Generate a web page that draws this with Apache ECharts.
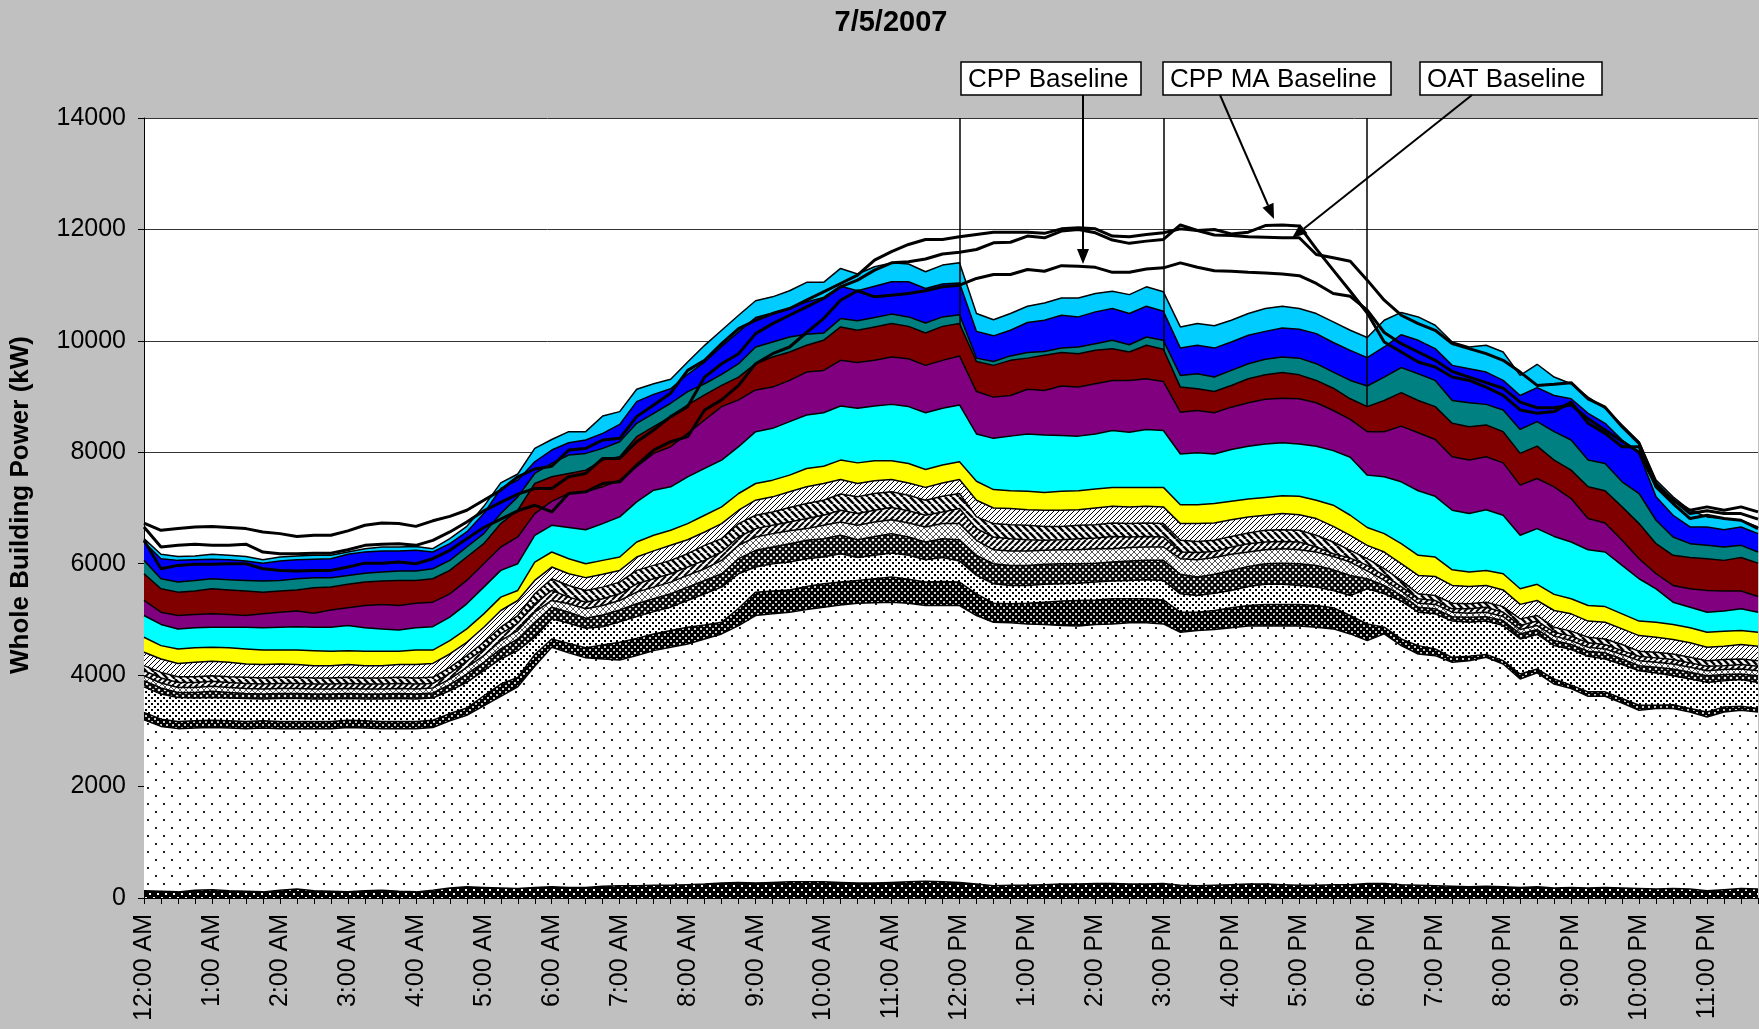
<!DOCTYPE html>
<html>
<head>
<meta charset="utf-8">
<title>7/5/2007</title>
<script src="https://cdn.jsdelivr.net/npm/echarts@6/dist/echarts.min.js"></script>
<style>
  html, body { margin: 0; padding: 0; background: #c0c0c0; }
  #chart { width: 1759px; height: 1029px; }
</style>
</head>
<body>
<div id="chart"></div>
<script>
// hour labels of the time axis, the data itself is every 15 minutes
const hourLabels = ['12:00 AM', '1:00 AM', '2:00 AM', '3:00 AM', '4:00 AM', '5:00 AM', '6:00 AM', '7:00 AM',
  '8:00 AM', '9:00 AM', '10:00 AM', '11:00 AM', '12:00 PM', '1:00 PM', '2:00 PM', '3:00 PM', '4:00 PM',
  '5:00 PM', '6:00 PM', '7:00 PM', '8:00 PM', '9:00 PM', '10:00 PM', '11:00 PM']
const quarterMarks = [':00', ':15', ':30', ':45']
const eventLines = ['12:00 PM', '3:00 PM', '6:00 PM']

// top edge (kW) of every stacked band, bottom band first
const baseBlack = [130, 120, 110, 140, 150, 130, 120, 110, 140, 160, 130, 120, 110, 130, 140, 120, 110, 140, 180, 200, 190, 180, 170, 190,
  200, 190, 190, 210, 220, 220, 230, 230, 240, 250, 270, 280, 270, 280, 290, 290, 290, 280, 270, 270, 280, 290, 300, 290, 280,
  250, 220, 230, 230, 240, 250, 250, 260, 260, 250, 250, 260, 230, 220, 230, 240, 250, 250, 240, 230, 230, 240, 240,
  260, 260, 240, 230, 220, 210, 200, 210, 200, 190, 200, 180, 190, 180, 190, 180, 170, 160, 170, 160, 130, 150, 170, 160]
const dotsLight = [3200, 3080, 3040, 3050, 3060, 3050, 3040, 3050, 3040, 3040, 3040, 3040, 3060, 3050, 3040, 3040, 3040, 3060, 3180, 3280, 3450, 3620, 3790, 4160,
  4500, 4400, 4310, 4290, 4270, 4350, 4440, 4500, 4560, 4650, 4740, 4890, 5070, 5100, 5130, 5180, 5220, 5260, 5290, 5300, 5310, 5290, 5250, 5250, 5250,
  5070, 4950, 4940, 4920, 4910, 4890, 4880, 4910, 4920, 4940, 4940, 4920, 4770, 4800, 4820, 4850, 4880, 4880, 4880, 4880, 4860, 4830, 4740,
  4620, 4740, 4530, 4380, 4350, 4230, 4260, 4320, 4200, 3930, 4040, 3840, 3760, 3620, 3620, 3500, 3370, 3400, 3400, 3340, 3250, 3340, 3370, 3340]
const dotsBlack = [3330, 3210, 3170, 3180, 3190, 3180, 3170, 3180, 3170, 3170, 3170, 3170, 3190, 3180, 3170, 3170, 3170, 3190, 3310, 3410, 3630, 3840, 3960, 4370,
  4650, 4570, 4490, 4540, 4590, 4660, 4740, 4800, 4860, 4900, 4950, 5200, 5490, 5510, 5530, 5590, 5640, 5670, 5700, 5730, 5760, 5720, 5670, 5680, 5670,
  5460, 5290, 5280, 5290, 5310, 5330, 5340, 5350, 5370, 5370, 5370, 5350, 5130, 5130, 5160, 5210, 5250, 5270, 5270, 5270, 5250, 5210, 5070,
  4920, 4860, 4650, 4530, 4470, 4320, 4340, 4370, 4260, 4020, 4110, 3930, 3820, 3700, 3700, 3580, 3460, 3460, 3470, 3400, 3340, 3430, 3440, 3400]
const dotsDense = [3790, 3660, 3600, 3590, 3600, 3590, 3580, 3570, 3580, 3580, 3570, 3570, 3580, 3570, 3570, 3580, 3570, 3590, 3720, 3870, 4080, 4290, 4440, 4680,
  5010, 4930, 4840, 4870, 4960, 5050, 5140, 5220, 5340, 5460, 5580, 5820, 5940, 6000, 6030, 6090, 6120, 6180, 6110, 6150, 6190, 6150, 6070, 6110, 6050,
  5790, 5640, 5610, 5610, 5630, 5640, 5650, 5670, 5690, 5700, 5710, 5700, 5460, 5430, 5470, 5520, 5590, 5630, 5630, 5610, 5580, 5520, 5430,
  5550, 5460, 5330, 5130, 5100, 4970, 4950, 4970, 4890, 4650, 4730, 4530, 4460, 4340, 4290, 4190, 4080, 4040, 3990, 3930, 3870, 3900, 3920, 3870]
const checkDark = [3900, 3770, 3690, 3690, 3710, 3690, 3670, 3660, 3670, 3670, 3660, 3660, 3670, 3660, 3660, 3670, 3660, 3680, 3830, 4020, 4230, 4470, 4650, 4950,
  5220, 5130, 5020, 5080, 5170, 5280, 5370, 5460, 5580, 5700, 5820, 6090, 6240, 6300, 6360, 6420, 6450, 6510, 6430, 6490, 6540, 6480, 6390, 6450, 6430,
  6150, 6000, 5970, 5970, 5990, 6000, 6000, 6010, 6030, 6050, 6060, 6060, 5810, 5760, 5810, 5880, 5950, 6000, 6010, 6000, 5970, 5890, 5790,
  5730, 5610, 5430, 5220, 5190, 5050, 5040, 5050, 4980, 4740, 4820, 4620, 4550, 4430, 4400, 4290, 4170, 4140, 4110, 4050, 3990, 4010, 4020, 3990]
const checkLight = [3990, 3860, 3780, 3780, 3800, 3780, 3760, 3750, 3760, 3760, 3750, 3750, 3760, 3750, 3750, 3760, 3750, 3770, 3930, 4140, 4350, 4620, 4800, 5130,
  5340, 5280, 5190, 5250, 5340, 5490, 5580, 5670, 5790, 5910, 6060, 6330, 6480, 6540, 6590, 6630, 6690, 6750, 6690, 6750, 6790, 6730, 6660, 6720, 6720,
  6420, 6250, 6230, 6230, 6240, 6250, 6250, 6270, 6270, 6290, 6300, 6300, 6090, 6070, 6110, 6170, 6210, 6250, 6270, 6250, 6210, 6130, 6030,
  5870, 5700, 5510, 5290, 5270, 5130, 5110, 5130, 5050, 4820, 4890, 4700, 4620, 4500, 4470, 4370, 4260, 4230, 4200, 4140, 4080, 4100, 4110, 4080]
const stripeDown = [4080, 3950, 3870, 3870, 3890, 3870, 3850, 3840, 3850, 3850, 3840, 3840, 3850, 3840, 3840, 3850, 3840, 3850, 4030, 4250, 4470, 4740, 4930, 5280,
  5520, 5400, 5310, 5370, 5460, 5640, 5730, 5820, 5940, 6060, 6210, 6480, 6630, 6690, 6750, 6810, 6870, 6960, 6900, 6960, 7010, 6950, 6870, 6930, 6990,
  6630, 6480, 6450, 6430, 6420, 6430, 6450, 6460, 6490, 6480, 6490, 6480, 6210, 6200, 6220, 6300, 6360, 6390, 6400, 6390, 6300, 6180, 6100,
  5970, 5790, 5590, 5370, 5340, 5190, 5190, 5220, 5130, 4890, 4970, 4770, 4700, 4580, 4550, 4440, 4340, 4310, 4280, 4220, 4160, 4170, 4190, 4160]
const stripeWide = [4170, 4050, 3970, 3970, 3990, 3970, 3960, 3950, 3960, 3960, 3950, 3950, 3960, 3950, 3950, 3960, 3950, 3960, 4140, 4350, 4590, 4860, 5070, 5460,
  5730, 5610, 5520, 5580, 5670, 5880, 5970, 6060, 6180, 6330, 6450, 6720, 6870, 6930, 7010, 7080, 7140, 7250, 7200, 7260, 7290, 7230, 7140, 7210, 7260,
  6840, 6720, 6700, 6690, 6670, 6670, 6690, 6700, 6730, 6720, 6730, 6720, 6420, 6400, 6420, 6490, 6550, 6600, 6610, 6600, 6510, 6390, 6240,
  6090, 5910, 5700, 5460, 5430, 5290, 5280, 5310, 5230, 5010, 5070, 4860, 4790, 4680, 4650, 4550, 4430, 4410, 4380, 4320, 4260, 4280, 4290, 4260]
const stripeLight = [4410, 4290, 4210, 4230, 4250, 4230, 4200, 4190, 4200, 4190, 4170, 4170, 4190, 4170, 4170, 4190, 4190, 4210, 4380, 4590, 4860, 5160, 5340, 5700,
  5940, 5820, 5750, 5810, 5880, 6120, 6230, 6330, 6430, 6570, 6720, 6960, 7140, 7200, 7290, 7380, 7440, 7510, 7440, 7490, 7510, 7450, 7370, 7450, 7510,
  7140, 7000, 6990, 6970, 6960, 6960, 6970, 7000, 7030, 7020, 7030, 7020, 6720, 6720, 6730, 6790, 6840, 6870, 6900, 6880, 6810, 6670, 6510,
  6330, 6210, 6000, 5790, 5770, 5610, 5590, 5610, 5530, 5270, 5340, 5160, 5100, 4970, 4950, 4830, 4710, 4680, 4640, 4580, 4500, 4520, 4550, 4520]
const yellowTop = [4680, 4530, 4470, 4490, 4500, 4490, 4470, 4450, 4450, 4450, 4440, 4430, 4440, 4430, 4430, 4430, 4450, 4450, 4620, 4830, 5100, 5400, 5520, 6030,
  6210, 6090, 6000, 6060, 6120, 6390, 6510, 6600, 6720, 6870, 7020, 7260, 7440, 7500, 7590, 7710, 7750, 7860, 7810, 7850, 7850, 7800, 7690, 7770, 7830,
  7480, 7330, 7310, 7300, 7280, 7300, 7310, 7340, 7370, 7370, 7370, 7370, 7060, 7060, 7080, 7120, 7160, 7190, 7220, 7210, 7140, 7050, 6870,
  6650, 6540, 6360, 6150, 6120, 5890, 5850, 5880, 5820, 5550, 5630, 5450, 5370, 5250, 5230, 5100, 4970, 4950, 4910, 4850, 4770, 4790, 4800, 4770]
const cyanTop = [5070, 4910, 4830, 4850, 4860, 4860, 4860, 4850, 4860, 4870, 4860, 4860, 4890, 4850, 4830, 4810, 4850, 4870, 5040, 5280, 5580, 5880, 6000, 6510,
  6690, 6650, 6610, 6720, 6840, 7110, 7320, 7380, 7560, 7710, 7860, 8100, 8370, 8430, 8550, 8670, 8710, 8830, 8790, 8830, 8860, 8820, 8710, 8790, 8850,
  8330, 8250, 8290, 8330, 8310, 8300, 8290, 8330, 8390, 8360, 8410, 8390, 7970, 7990, 7970, 8050, 8110, 8150, 8170, 8150, 8110, 8030, 7910,
  7590, 7560, 7470, 7310, 7210, 6960, 6900, 6970, 6870, 6510, 6630, 6490, 6390, 6250, 6210, 5970, 5730, 5550, 5310, 5220, 5130, 5150, 5190, 5130]
const purpleTop = [5340, 5130, 5070, 5090, 5100, 5090, 5070, 5100, 5130, 5150, 5110, 5170, 5210, 5250, 5270, 5250, 5290, 5310, 5460, 5700, 6000, 6300, 6480, 6900,
  7120, 7260, 7290, 7380, 7500, 7740, 7980, 8100, 8340, 8580, 8820, 8940, 9120, 9170, 9290, 9440, 9470, 9650, 9610, 9650, 9710, 9680, 9560, 9650, 9730,
  9090, 8990, 9020, 9130, 9110, 9190, 9170, 9230, 9290, 9290, 9320, 9270, 8720, 8750, 8710, 8810, 8890, 8950, 8970, 8960, 8890, 8750, 8590,
  8370, 8370, 8470, 8350, 8230, 7920, 7860, 7920, 7810, 7410, 7530, 7380, 7170, 6810, 6730, 6420, 6090, 5820, 5610, 5550, 5520, 5510, 5510, 5410]
const maroonTop = [5820, 5550, 5490, 5510, 5550, 5530, 5510, 5490, 5510, 5530, 5570, 5580, 5630, 5670, 5690, 5700, 5700, 5730, 5880, 6120, 6360, 6720, 6960, 7440,
  7560, 7620, 7680, 7860, 7920, 8280, 8460, 8640, 8850, 9030, 9200, 9350, 9590, 9710, 9800, 9920, 10010, 10250, 10190, 10250, 10310, 10260, 10140, 10260, 10310,
  9630, 9560, 9650, 9690, 9740, 9790, 9770, 9830, 9860, 9800, 9920, 9850, 9170, 9140, 9090, 9200, 9320, 9390, 9430, 9390, 9290, 9150, 8960,
  8820, 8930, 9070, 8930, 8820, 8520, 8460, 8490, 8370, 7980, 8110, 7860, 7680, 7380, 7310, 7020, 6720, 6360, 6150, 6110, 6090, 6060, 6110, 6010]
const tealTop = [6060, 5730, 5670, 5700, 5730, 5710, 5700, 5690, 5700, 5730, 5750, 5750, 5790, 5830, 5850, 5870, 5870, 5910, 6060, 6300, 6540, 6900, 7200, 7620,
  7800, 7950, 7980, 8070, 8190, 8520, 8700, 8880, 9090, 9230, 9400, 9590, 9890, 9980, 10070, 10120, 10140, 10400, 10360, 10420, 10480, 10430, 10320, 10430, 10470,
  9690, 9630, 9730, 9790, 9810, 9870, 9890, 9950, 10010, 9930, 10070, 10010, 9380, 9410, 9350, 9470, 9590, 9670, 9710, 9690, 9590, 9440, 9290,
  9190, 9350, 9520, 9410, 9290, 8930, 8890, 8860, 8760, 8410, 8550, 8370, 8220, 7860, 7800, 7470, 7260, 6780, 6480, 6360, 6330, 6300, 6330, 6210]
const blueTop = [6390, 6090, 6060, 6070, 6080, 6070, 6050, 6010, 6050, 6070, 6080, 6090, 6170, 6210, 6230, 6230, 6240, 6210, 6360, 6570, 6900, 7350, 7500, 7830,
  8040, 8170, 8220, 8340, 8500, 8910, 9040, 9140, 9400, 9620, 9900, 10160, 10420, 10500, 10580, 10700, 10780, 10980, 10900, 10980, 11060, 11060, 10940, 11020, 11040,
  10170, 10090, 10190, 10330, 10370, 10460, 10430, 10520, 10580, 10490, 10620, 10530, 9870, 9920, 9870, 9980, 10100, 10170, 10230, 10210, 10130, 9970, 9830,
  9700, 9890, 10110, 10010, 9860, 9560, 9500, 9440, 9290, 9020, 9160, 9020, 8960, 8700, 8520, 8220, 7980, 7200, 6870, 6660, 6660, 6610, 6660, 6540]
const skyTop = [6450, 6170, 6130, 6140, 6170, 6150, 6130, 6070, 6120, 6140, 6150, 6150, 6210, 6270, 6300, 6300, 6310, 6270, 6450, 6670, 7030, 7450, 7610, 8070,
  8230, 8370, 8370, 8650, 8730, 9130, 9230, 9310, 9620, 9920, 10190, 10460, 10720, 10790, 10900, 11050, 11050, 11300, 11200, 11330, 11400, 11380, 11240, 11360, 11400,
  10490, 10380, 10490, 10620, 10680, 10770, 10770, 10850, 10890, 10830, 10970, 10880, 10250, 10310, 10270, 10370, 10490, 10580, 10620, 10580, 10490, 10340, 10190,
  10060, 10370, 10510, 10430, 10280, 9980, 9890, 9920, 9800, 9380, 9580, 9350, 9230, 8990, 8790, 8490, 8190, 7500, 7200, 6960, 6840, 6810, 6780, 6660]

// the three baselines (kW)
const cppBaseline = [6420, 5910, 5970, 5990, 5990, 6000, 6000, 5910, 5880, 5870, 5880, 5880, 5940, 6010, 6010, 6030, 6000, 6090, 6240, 6450, 6650, 6800, 6950, 7050,
  6930, 7260, 7290, 7440, 7470, 7770, 8040, 8190, 8280, 8760, 8940, 9200, 9590, 9770, 9890, 10150, 10400, 10730, 10900, 10790, 10820, 10850, 10900, 10970, 11000,
  11120, 11190, 11190, 11280, 11250, 11350, 11340, 11320, 11230, 11230, 11290, 11310, 11400, 11320, 11260, 11250, 11230, 11220, 11200, 11170, 11030, 10850, 10800,
  10550, 10150, 9950, 9800, 9650, 9450, 9350, 9250, 9150, 8900, 8800, 8800, 8850, 8600, 8400, 8200, 8000, 7400, 7150, 6900, 6950, 6900, 6900, 6800]
const cppMaBaseline = [6730, 6600, 6630, 6660, 6670, 6650, 6630, 6570, 6540, 6490, 6510, 6510, 6590, 6690, 6730, 6720, 6670, 6770, 6850, 6960, 7140, 7320, 7560, 7700,
  7750, 8040, 8070, 8220, 8250, 8640, 8850, 9060, 9470, 9650, 9950, 10220, 10370, 10490, 10580, 10730, 10880, 11030, 11180, 11450, 11600, 11730, 11820, 11820, 11870,
  11910, 11950, 11950, 11950, 11930, 12010, 12030, 12010, 11880, 11870, 11910, 11940, 12010, 11980, 12000, 11920, 11950, 12070, 12080, 12060, 11650, 11270, 10890,
  10500, 9980, 9800, 9620, 9530, 9350, 9290, 9170, 9020, 8760, 8700, 8730, 8900, 8520, 8340, 8100, 8100, 7380, 7080, 6810, 6870, 6810, 6780, 6630]
const oatBaseline = [6660, 6300, 6330, 6350, 6330, 6330, 6350, 6210, 6180, 6180, 6190, 6190, 6250, 6330, 6350, 6360, 6330, 6420, 6570, 6750, 6950, 7100, 7250, 7350,
  7350, 7560, 7620, 7890, 7890, 8190, 8400, 8640, 8820, 9350, 9590, 9770, 10130, 10310, 10460, 10610, 10760, 10970, 11090, 11270, 11400, 11420, 11470, 11560, 11590,
  11640, 11760, 11770, 11880, 11850, 11970, 12000, 11940, 11810, 11750, 11790, 11820, 12080, 11980, 11900, 11890, 11870, 11860, 11850, 11850, 11550, 11490, 11430,
  11090, 10730, 10460, 10310, 10190, 9950, 9860, 9770, 9650, 9440, 9200, 9220, 9250, 8960, 8810, 8460, 8160, 7440, 7140, 6960, 7020, 6960, 7020, 6930]

// 15 minute categories built from the hour labels
const times = []
hourLabels.forEach(h => quarterMarks.forEach(q => times.push(h.replace(':00', q))))

// small canvas tiles to imitate the excel fill patterns
function tile(size, draw) {
  const c = document.createElement('canvas')
  c.width = size
  c.height = size
  const g = c.getContext('2d')
  draw(g, size)
  return { image: c, repeat: 'repeat' }
}
function dots(bg, fg, pts, r) {
  return (g, s) => {
    g.fillStyle = bg
    g.fillRect(0, 0, s, s)
    g.fillStyle = fg
    pts.forEach(p => g.fillRect(p[0], p[1], r, r))
  }
}
function stripes(bg, fg, w, dirs) {
  return (g, s) => {
    g.fillStyle = bg
    g.fillRect(0, 0, s, s)
    g.strokeStyle = fg
    g.lineWidth = w
    dirs.forEach(d => {
      for (let k = -1; k <= 1; k++) {
        g.beginPath()
        if (d === '/') { g.moveTo(k * s, s); g.lineTo(k * s + s, 0) }
        else { g.moveTo(k * s, 0); g.lineTo(k * s + s, s) }
        g.stroke()
      }
    })
  }
}

// bands from top to bottom, so the lower ones are drawn over the upper ones
const bands = [
  { name: 'sky', data: skyTop, fill: '#00ccff' },
  { name: 'blue', data: blueTop, fill: '#0000ff' },
  { name: 'teal', data: tealTop, fill: '#008080' },
  { name: 'maroon', data: maroonTop, fill: '#800000' },
  { name: 'purple', data: purpleTop, fill: '#800080' },
  { name: 'cyan', data: cyanTop, fill: '#00ffff' },
  { name: 'yellow', data: yellowTop, fill: '#ffff00' },
  { name: 'stripeLight', data: stripeLight, fill: tile(5, stripes('#fff', '#000', 1, ['/'])) },
  { name: 'stripeWide', data: stripeWide, fill: tile(7, stripes('#fff', '#000', 2.5, ['\\'])) },
  { name: 'stripeDown', data: stripeDown, fill: tile(6, stripes('#fff', '#000', 2, ['/'])) },
  { name: 'checkLight', data: checkLight, fill: tile(6, stripes('#fff', '#555', 1, ['/', '\\'])) },
  { name: 'checkDark', data: checkDark, fill: tile(6, stripes('#fff', '#000', 2, ['/', '\\'])) },
  { name: 'dotsDense', data: dotsDense, fill: tile(6, dots('#fff', '#000', [[1, 1], [4, 4]], 2)) },
  { name: 'dotsBlack', data: dotsBlack, fill: tile(6, dots('#000', '#ccc', [[1, 1], [4, 4]], 2)) },
  { name: 'dotsLight', data: dotsLight, fill: tile(16, dots('#fff', '#222', [[3, 3], [11, 11]], 2)) },
  { name: 'baseBlack', data: baseBlack, fill: tile(8, dots('#000', '#fff', [[1, 1], [5, 5]], 2)) }
]

const series = bands.map((b, k) => ({
  type: 'line',
  name: b.name,
  data: b.data,
  symbol: 'none',
  silent: true,
  z: 2 + k,
  lineStyle: { color: '#000', width: 1.5 },
  areaStyle: { color: b.fill, opacity: 1 }
}))

const baselines = [
  { name: 'CPP Baseline', data: cppBaseline },
  { name: 'CPP MA Baseline', data: cppMaBaseline },
  { name: 'OAT Baseline', data: oatBaseline }
]
baselines.forEach((b, k) => {
  const s = {
    type: 'line',
    name: b.name,
    data: b.data,
    symbol: 'none',
    silent: true,
    z: 30,
    lineStyle: { color: '#000', width: 3 }
  }
  // vertical event lines at 12, 3 and 6 PM
  if (k === 0) {
    s.markLine = {
      silent: true,
      symbol: 'none',
      label: { show: false },
      lineStyle: { color: '#000', width: 1.5, type: 'solid' },
      data: eventLines.map(t => ({ xAxis: t }))
    }
  }
  series.push(s)
})

const font = '"Liberation Sans", Arial, sans-serif'

// annotation boxes and arrows
function box(x, y, w, h, text) {
  return [
    { type: 'rect', z: 100, shape: { x: x, y: y, width: w, height: h }, style: { fill: '#fff', stroke: '#000', lineWidth: 1.5 } },
    { type: 'text', z: 101, style: { text: text, x: x + 7, y: y + h / 2 + 1, font: '26px ' + font, fill: '#000', textVerticalAlign: 'middle', verticalAlign: 'middle' } }
  ]
}
function arrow(x1, y1, x2, y2) {
  const a = Math.atan2(y2 - y1, x2 - x1)
  const len = 15, half = 6
  const bx = x2 - len * Math.cos(a), by = y2 - len * Math.sin(a)
  const nx = -Math.sin(a) * half, ny = Math.cos(a) * half
  return [
    { type: 'line', z: 100, shape: { x1: x1, y1: y1, x2: bx, y2: by }, style: { stroke: '#000', lineWidth: 2 } },
    { type: 'polygon', z: 100, shape: { points: [[x2, y2], [bx + nx, by + ny], [bx - nx, by - ny]] }, style: { fill: '#000' } }
  ]
}

const graphics = [
  { type: 'text', style: { text: '7/5/2007', x: 891, y: 23, font: 'bold 29px ' + font, fill: '#000', textAlign: 'center', align: 'center', textVerticalAlign: 'middle', verticalAlign: 'middle' } },
  { type: 'text', rotation: Math.PI / 2, x: 21, y: 505, style: { text: 'Whole Building Power (kW)', x: 0, y: 0, font: 'bold 26px ' + font, fill: '#000', textAlign: 'center', align: 'center', textVerticalAlign: 'middle', verticalAlign: 'middle' } }
]
  .concat(box(961, 62, 180, 33, 'CPP Baseline'))
  .concat(box(1163, 62, 228, 33, 'CPP MA Baseline'))
  .concat(box(1420, 62, 182, 33, 'OAT Baseline'))
  .concat(arrow(1083, 95, 1083, 264))
  .concat(arrow(1220, 95, 1274, 219))
  .concat(arrow(1472, 95, 1292, 238))

const chart = echarts.init(document.getElementById('chart'))
chart.setOption({
  animation: false,
  backgroundColor: '#c0c0c0',
  grid: { left: 144, right: 1, top: 118, bottom: 131, show: true, backgroundColor: '#fff', borderWidth: 0 },
  xAxis: {
    type: 'category',
    data: times,
    boundaryGap: false,
    axisLine: { lineStyle: { color: '#000', width: 1 } },
    axisTick: { interval: 0, length: 6, lineStyle: { color: '#000' } },
    axisLabel: { interval: 3, rotate: 90, fontSize: 25, color: '#000', fontFamily: font, margin: 16 },
    splitLine: { show: false }
  },
  yAxis: {
    type: 'value',
    min: 0,
    max: 14000,
    interval: 2000,
    axisLine: { show: true, lineStyle: { color: '#000', width: 1 } },
    axisTick: { show: true, length: 6, lineStyle: { color: '#000' } },
    axisLabel: { fontSize: 25, color: '#000', fontFamily: font, margin: 18, formatter: v => String(v) },
    splitLine: { lineStyle: { color: '#333', width: 1 } }
  },
  series: series,
  graphic: graphics
})
</script>
</body>
</html>
